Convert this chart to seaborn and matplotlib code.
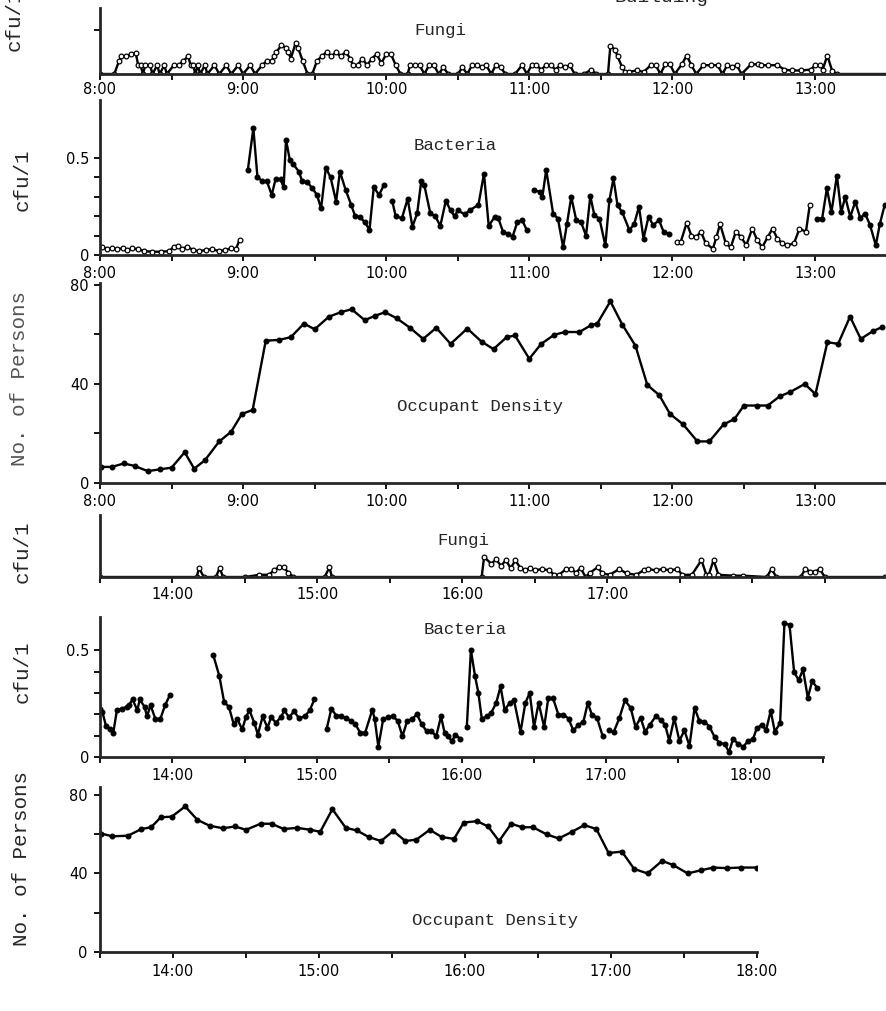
import numpy as np
import pandas as pd
import matplotlib
matplotlib.use("Agg")
import matplotlib.pyplot as plt
import seaborn as sns

# ---- Fungi, morning (minutes after 8:00, cfu/l) ----
fungi_am_min = [0, 6, 8, 9, 11, 13, 15, 16, 17, 18, 19, 21, 22, 24, 25, 27, 28, 31, 33, 35,
                37, 38, 39, 40, 41, 42, 44, 45, 48, 50, 53, 55, 58, 60, 63, 65, 68, 70, 72, 73,
                74, 76, 78, 79, 80, 82, 83, 85, 87, 89, 91, 93, 95, 97, 99, 101, 103, 105, 106, 108,
                110, 112, 114, 116, 118, 120, 122, 124, 126, 129, 130, 132, 134, 136, 138, 140, 142, 144, 146, 150,
                152, 154, 156, 158, 160, 162, 164, 166, 168, 170, 174, 177, 179, 181, 183, 185, 187, 189, 191, 193,
                195, 197, 199, 203, 206, 208, 213, 214, 216, 217, 219, 220, 222, 225, 228, 231, 233, 235, 237, 239,
                241, 244, 246, 248, 250, 253, 256, 259, 261, 263, 265, 267, 269, 273, 276, 277, 280, 284, 287, 290,
                294, 298, 300, 302, 303, 305, 307, 309, 335]
fungi_am_val = [0, 0, .03, .04, .04, .045, .048, .02, .02, 0, .02, .02, 0, .02, 0, .02, 0, .02, .02, .03,
                .04, .02, .02, 0, .02, 0, .02, 0, .02, 0, .02, 0, .02, 0, .02, 0, .02, .03, .03, .04,
                .05, .065, .06, .05, .035, .07, .06, .03, 0, 0, .03, .04, .05, .04, .05, .04, .05, .035, .02, .02,
                .035, .02, .035, .045, .025, .045, .045, .02, 0, 0, .02, .02, .02, 0, .02, .02, 0, .015, 0, 0,
                .015, 0, .02, .02, .015, .02, 0, .02, .015, 0, 0, .02, 0, .02, .02, .01, .02, .02, .01, .02,
                .015, .02, 0, 0, .01, 0, 0, .064, .055, .04, .015, .005, .005, .008, .005, .02, .02, 0, .022, .022,
                0, .022, .042, .02, 0, .02, .02, .02, 0, .02, .015, .02, 0, .022, .022, .02, .02, .02, .01, .008,
                .008, .01, .02, .02, .01, .042, .007, 0, 0]

# ---- Bacteria, morning (minutes after 8:00, cfu/l), one list per sampling run ----
bact_am_min = [
    [1, 3, 5, 7, 9.5, 11.5, 13.5, 16, 18.5, 22, 25.5, 29, 31, 32.5, 34.5, 36.5, 39, 41.5, 44.5, 47,
     50, 52.5, 55, 57, 58.5],
    [62, 64.3, 66, 68, 70, 72, 73.6, 75.7, 77, 78, 79.6, 81, 83.4, 84.8, 87, 89, 91, 92.7, 94.7, 96.7,
     99, 100.6, 103, 105.3, 107, 109, 111, 113, 114.8, 117, 119],
    [122.5, 124, 126.6, 129, 131, 133, 134.7, 136, 138.5, 140.6, 142.7, 145, 147, 148.7, 150, 153, 155, 158.7, 161, 163,
     165.5, 167, 169, 171, 173, 175, 177, 179],
    [181.8, 184.4, 185.5, 187.1, 190, 192, 194.2, 195.8, 197.6, 199.7, 201.7, 203.8, 205.6, 207.3, 209.4, 211.9, 213.6, 215.3, 217, 219,
     222, 224, 226, 227.9, 230, 232, 234.4, 236.3, 238.6],
    [242, 243.5, 246, 248, 250, 252, 254, 257, 258.5, 260, 262.4, 264.5, 266.6, 268.8, 271, 273.5, 275.6, 277.7, 280, 282,
     284, 286, 288.2, 291, 293.3, 296, 297.6],
    [300.6, 302.8, 304.8, 306.7, 309, 310.8, 312.5, 314.6, 316.7, 318.8, 320.8, 322.9, 325.3, 327, 329],
]
bact_am_val = [
    [.043, .03, .034, .03, .034, .026, .034, .03, .02, .017, .017, .02, .043, .048, .03, .043, .026, .02, .026, .03,
     .02, .026, .034, .03, .078],
    [.44, .655, .405, .38, .38, .31, .39, .39, .35, .595, .49, .47, .43, .38, .375, .345, .31, .24, .45, .40,
     .276, .43, .336, .26, .20, .195, .17, .13, .35, .31, .36],
    [.28, .20, .19, .29, .146, .215, .38, .36, .215, .20, .15, .28, .23, .20, .23, .21, .23, .26, .42, .15,
     .197, .19, .12, .11, .095, .17, .18, .128],
    [.335, .326, .30, .44, .214, .188, .04, .16, .30, .18, .17, .10, .304, .205, .188, .05, .283, .395, .257, .22,
     .128, .16, .25, .085, .197, .154, .18, .12, .11],
    [.067, .067, .166, .10, .093, .12, .06, .033, .093, .16, .06, .04, .12, .093, .05, .136, .076, .04, .093, .136,
     .085, .06, .05, .06, .136, .12, .257],
    [.188, .188, .344, .22, .41, .22, .30, .197, .275, .19, .214, .154, .05, .16, .257],
]
bact_am_open = [0, 4]   # runs drawn with open circles

# ---- Occupant density, morning (minutes after 8:00, persons) ----
occ_am_min = [0.5, 5, 10, 14.5, 20, 25, 30, 35.5, 39.5, 44, 50, 55, 59.5, 64, 69.5, 75, 80, 85.5, 90, 96,
              101, 105.5, 111, 115.5, 119.5, 124.5, 130, 135.5, 141, 147, 154, 160, 165, 170.5, 174, 180, 185, 190.5, 195, 201,
              206, 208.5, 214, 219, 224.5, 229.5, 234.5, 239, 244.5, 250.5, 255.5, 261.5, 266, 270, 275.5, 280, 285, 289.5, 295.5, 300,
              305, 309.5, 314.5, 319, 324, 328]
occ_am_val = [6.5, 6.5, 7.9, 6.9, 4.8, 5.5, 6.2, 12.4, 5.8, 9.2, 16.8, 20.7, 27.9, 29.5, 57.5, 57.8, 58.9, 64.4, 62.1, 67.2,
              69, 70.2, 65.8, 67.6, 69, 66.5, 62.7, 58.2, 62.7, 56.2, 62.4, 57.1, 54.1, 58.9, 59.6, 50.2, 56.2, 59.9, 61, 61,
              63.8, 64.4, 73.4, 64, 55.5, 39.6, 35.5, 27.9, 23.7, 16.8, 16.8, 23.7, 25.8, 31.3, 31.3, 31.3, 35, 36.8, 40, 35.9,
              56.9, 56.2, 67.2, 58.2, 61.3, 63]

# ---- Fungi, afternoon (minutes after 13:30, cfu/l) ----
fungi_pm_min = [0, 40, 41, 43, 48, 49.5, 51, 60, 66, 70, 72, 74, 76, 78, 80, 93, 95, 96, 158, 159,
                162, 164, 166, 168, 170, 172, 174, 176, 178, 180, 183, 186, 188, 190, 193, 195, 197, 199, 201, 203,
                206, 208, 211, 215, 218, 222, 225, 227, 230, 233, 236, 239, 241, 245, 249, 251, 252, 254, 256, 262,
                266, 276, 278, 280, 290, 292, 294, 296, 298, 300, 325]
fungi_pm_val = [0, 0, .02, 0, 0, .02, 0, 0, .005, .005, .015, .022, .022, .01, 0, 0, .022, 0, 0, .045,
                .03, .04, .025, .038, .02, .038, .02, .015, .02, .015, .018, .015, .005, .005, .018, .018, .01, .02, 0, .01,
                .022, .008, .005, .018, .008, .005, .015, .018, .015, .018, .015, .018, .005, .005, .038, .005, .005, .038, .005, .003,
                .003, 0, .018, 0, 0, .018, .012, .012, .018, 0, 0]

# ---- Bacteria, afternoon (minutes after 13:30, cfu/l) ----
bact_pm_min = [
    [0, 1, 2.5, 4, 5.5, 7, 9, 11, 12, 13.5, 15.5, 16.5, 18.5, 19.5, 21, 23, 25, 27, 29],
    [47, 49.5, 51.5, 53.5, 55.5, 57, 59, 60.5, 62, 64, 65.5, 67.5, 69.5, 71, 73, 75, 76.5, 78.5, 80.5, 82.5,
     85, 87, 89],
    [94, 96, 98, 100, 102, 104, 106, 108, 110, 113, 114, 115.5, 117.5, 119.5, 121.5, 123.5, 125.5, 127.5, 129.5, 131.5,
     133.5, 135.5, 137.5, 139.5, 141.5, 143, 144.5, 146, 147.5, 149.5],
    [152.2, 153.9, 155.6, 157, 158.4, 160.6, 162.3, 164.4, 166.2, 167.9, 170, 171.8, 174.5, 176.5, 178.3, 180.1, 182, 184.3, 186, 188,
     190.2, 192.3, 194.4, 196.4, 198.5, 200.6, 202.4, 204.1, 206.2, 208.6],
    [211, 213.2, 215.5, 217.8, 220.2, 222.2, 224.3, 226.2, 228.1, 230.6, 232.7, 234.5, 236.2, 238.3, 240.4, 242.5, 244.6, 246.7, 248.7, 250.8,
     252.9, 255, 257, 259.2, 261, 262.7, 264.8, 266.9, 269, 271, 272.5, 274.5, 276.4, 278.3, 280, 282.2, 284, 286.1, 288, 289.9,
     291.7, 293.7, 295.5, 297.6],
]
bact_pm_val = [
    [.226, .21, .145, .129, .113, .218, .226, .234, .242, .27, .218, .27, .234, .19, .242, .177, .177, .242, .29],
    [.476, .38, .258, .234, .153, .177, .129, .185, .218, .161, .105, .19, .137, .185, .161, .185, .218, .185, .215, .182,
     .19, .218, .27],
    [.129, .226, .194, .19, .182, .17, .153, .113, .113, .221, .177, .048, .177, .185, .19, .17, .097, .17, .177, .20,
     .153, .121, .121, .097, .19, .113, .097, .073, .105, .085],
    [.14, .50, .38, .30, .18, .19, .206, .253, .33, .22, .253, .265, .118, .253, .30, .14, .253, .14, .275, .275,
     .198, .198, .18, .124, .15, .166, .253, .198, .184, .097],
    [.126, .118, .182, .265, .23, .14, .184, .118, .15, .19, .174, .15, .076, .182, .076, .124, .052, .23, .169, .166,
     .142, .094, .066, .061, .023, .085, .061, .048, .076, .085, .134, .15, .126, .216, .119, .158, .626, .618, .40, .358,
     .41, .277, .355, .323],
]

# ---- Occupant density, afternoon (minutes after 13:30, persons) ----
occ_pm_min = [0.5, 5, 11.5, 17, 21, 25, 29.5, 35, 40, 45, 50.5, 55.5, 60, 66, 70.5, 75.5, 81, 86.5, 90.5, 95.5,
              101, 105.5, 110.5, 115.5, 120.5, 125.5, 130, 135.5, 140.5, 145.5, 149.5, 155, 159.5, 164, 169, 173.5, 178, 183.5, 188.5, 194,
              199, 204, 209, 214.5, 219.5, 225, 231, 235.5, 241.5, 247, 252, 257.5, 263.5, 270]
occ_pm_val = [60.3, 58.9, 59.2, 62.6, 63.5, 68.6, 68.9, 74.1, 67.3, 64.3, 63, 63.9, 62.2, 65.3, 65.3, 62.6, 63.2, 62.2, 61.2, 72.7,
              63.2, 61.9, 58.5, 56.5, 61.6, 56.5, 57.2, 62.2, 58.5, 57.6, 65.9, 66.6, 63.9, 56.5, 65.3, 63.5, 63.5, 59.9, 57.8, 61.2,
              64.6, 62.6, 50.4, 51.1, 42.3, 40, 46.4, 44.3, 40, 41.6, 43, 42.7, 43, 43]

am_hours = [8, 9, 10, 11, 12, 13]
pm_hours = [14, 15, 16, 17, 18]

sns.set_style("ticks")
MONO = ['Liberation Mono', 'DejaVu Sans Mono']
TICKF = ['Liberation Sans Narrow', 'DejaVu Sans']
plt.rcParams['font.family'] = MONO

W, H = 887, 1011
fig = plt.figure(figsize=(W / 100, H / 100), dpi=100)


def add_ax(left, top, right, bottom):
    return fig.add_axes([left / W, 1 - bottom / H, (right - left) / W, (bottom - top) / H])


def draw(ax, start, mins, vals, open_marks=False):
    df = pd.DataFrame({'t': [start + m / 60 for m in mins], 'v': vals})
    sns.lineplot(data=df, x='t', y='v', ax=ax, color='k', lw=1.7, sort=False,
                 estimator=None, marker='o', markersize=3.4, mec='k',
                 mfc='white' if open_marks else 'k', mew=0.9)


def style(ax, x0, x1, ytop, labelled_hours, yticks, yticklabels, yminor, pad):
    ax.set_xlim(x0, x1)
    ax.set_ylim(0, ytop)
    sns.despine(ax=ax)
    for s in ('left', 'bottom'):
        ax.spines[s].set_linewidth(2.0)
    ax.set_xticks(labelled_hours)
    ax.set_xticklabels([f"{h}:00" for h in labelled_hours], family=TICKF, fontsize=10.5)
    ax.set_xticks(np.arange(x0, x1 + 0.01, 0.5), minor=True)
    ax.set_yticks(yticks)
    ax.set_yticklabels(yticklabels, family=TICKF, fontsize=10.5)
    ax.set_yticks(yminor, minor=True)
    ax.tick_params(which='both', direction='out', length=4, width=1.3, colors='k', pad=pad)
    ax.set_xlabel('')
    ax.set_ylabel('')
    ax.patch.set_alpha(0)


# Panel 1: fungi morning
ax1 = add_ax(100, 8, 887, 74)
draw(ax1, 8, fungi_am_min, fungi_am_val, open_marks=True)
style(ax1, 8, 13.5, 0.15, am_hours, [], [], [0.1], 2)

# Panel 2: bacteria morning
ax2 = add_ax(100, 100, 887, 255)
for i, (m, v) in enumerate(zip(bact_am_min, bact_am_val)):
    draw(ax2, 8, m, v, open_marks=i in bact_am_open)
style(ax2, 8, 13.5, 0.8, am_hours, [0, 0.5], ["0", "0.5"], [0.1, 0.2, 0.3, 0.4], 4)

# Panel 3: occupants morning
ax3 = add_ax(100, 283, 887, 483)
draw(ax3, 8, occ_am_min, occ_am_val)
style(ax3, 8, 13.5, 80.8, am_hours, [0, 40, 80], ["0", "40", "80"], [20, 60], 4)

# Panel 4: fungi afternoon
ax4 = add_ax(100, 515, 887, 577)
draw(ax4, 13.5, fungi_pm_min, fungi_pm_val, open_marks=True)
style(ax4, 13.5, 18.93, 0.14, [14, 15, 16, 17], [], [], [], 3)

# Panel 5: bacteria afternoon
ax5 = add_ax(100, 617, 823, 757)
for m, v in zip(bact_pm_min, bact_pm_val):
    draw(ax5, 13.5, m, v)
style(ax5, 13.5, 18.5, 0.655, pm_hours, [0, 0.5], ["0", "0.5"], [0.1, 0.2, 0.3, 0.4], 4)

# Panel 6: occupants afternoon
ax6 = add_ax(100, 787, 757, 952)
draw(ax6, 13.5, occ_pm_min, occ_pm_val)
style(ax6, 13.5, 18.0, 84, pm_hours, [0, 40, 80], ["0", "40", "80"], [20, 60], 5)


def ftext(x, y, s, **kw):
    fig.text(x / W, 1 - y / H, s, **kw)


# panel titles
ftext(440, 30, "Fungi", ha='center', va='center', fontsize=12.5)
ftext(455, 145, "Bacteria", ha='center', va='center', fontsize=12.5)
ftext(480, 407, "Occupant Density", ha='center', va='center', fontsize=12.5)
ftext(463, 540, "Fungi", ha='center', va='center', fontsize=12.5)
ftext(465, 630, "Bacteria", ha='center', va='center', fontsize=12.5)
ftext(495, 920, "Occupant Density", ha='center', va='center', fontsize=12.5)

# y labels
ftext(14, 20, "cfu/1", rotation=90, ha='center', va='center', fontsize=15)
ftext(22, 180, "cfu/1", rotation=90, ha='center', va='center', fontsize=15)
ftext(20, 378, "No. of Persons", rotation=90, ha='center', va='center', fontsize=15, color='#555555')
ftext(22, 552, "cfu/1", rotation=90, ha='center', va='center', fontsize=15)
ftext(22, 672, "cfu/1", rotation=90, ha='center', va='center', fontsize=15)
ftext(22, 858, "No. of Persons", rotation=90, ha='center', va='center', fontsize=15)

# clipped heading at the very top, only its lower edge shows
ftext(615, 2, "Building", ha='left', va='baseline', fontsize=14)

fig.savefig("out.png", dpi=100)
